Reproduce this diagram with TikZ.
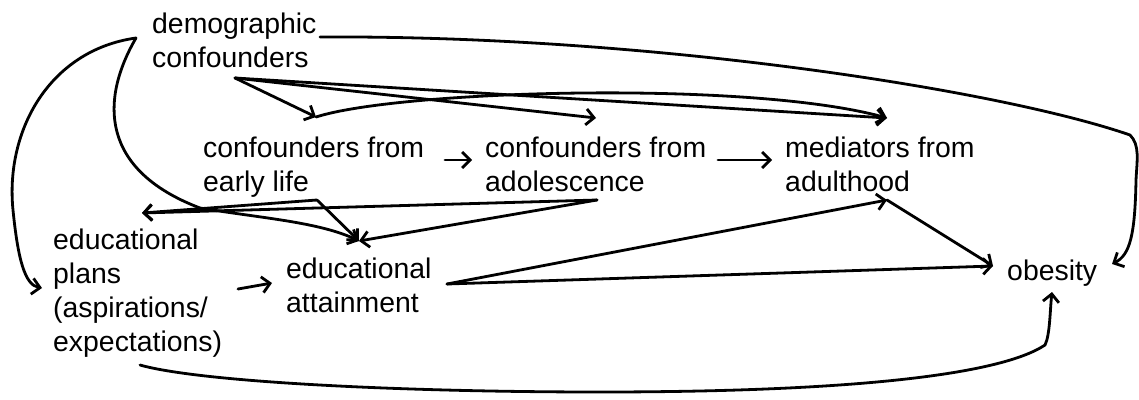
\documentclass[tikz,border=0pt]{standalone}
\usepackage{fontspec}
\setmainfont{Liberation Sans}
\usetikzlibrary{arrows.meta}
\begin{document}
\begin{tikzpicture}[x=1pt,y=-1pt,
  lbl/.style={anchor=north west,inner sep=0pt,align=left,font=\fontsize{28.4}{34}\selectfont},
  conn/.style={line width=2.8pt,line cap=round,line join=round,-{Straight Barb[length=8pt,width=16pt]}}]
\useasboundingbox[fill=white] (0,0) rectangle (1139,399);
% nodes
\node[lbl] (dem) at (152,13) {demographic\\confounders};
\node[lbl] (el)  at (203,137) {confounders from\\early life};
\node[lbl] (ado) at (485,137) {confounders from\\adolescence};
\node[lbl] (med) at (785,137) {mediators from\\adulthood};
\node[lbl] (plan) at (53,229) {educational\\plans\\(aspirations/\\expectations)};
\node[lbl] (att) at (286,258) {educational\\attainment};
\node[lbl] (obe) at (1007,260) {obesity};
% ports
\coordinate (demR) at (320,37);
\coordinate (demL) at (136,38);
\coordinate (demB) at (235,78);
\coordinate (elT) at (316,117);
\coordinate (elR) at (445,160);
\coordinate (elB) at (317,200);
\coordinate (adoT) at (596,118);
\coordinate (adoL) at (472,160);
\coordinate (adoR) at (718,160);
\coordinate (adoB) at (597,200);
\coordinate (medT) at (887,118);
\coordinate (medL) at (772,160);
\coordinate (medB) at (887,200);
\coordinate (planT) at (142,213);
\coordinate (planL) at (42,288);
\coordinate (planR) at (238,289);
\coordinate (planB) at (140,365);
\coordinate (attT) at (359,241);
\coordinate (attL) at (272,283);
\coordinate (attR) at (447,284);
\coordinate (obeL) at (993,266);
\coordinate (obeB) at (1052,292);
\coordinate (obeR) at (1112,264);
% connectors
\draw[conn] (demR) .. controls (650,35) and (1000,90) .. (1130,135)
  .. controls (1140,145) and (1137,160) .. (1136,180)
  .. controls (1135,235) and (1130,255) .. (obeR);
\draw[conn] (demB) -- (elT);
\draw[conn] (demB) -- (adoT);
\draw[conn] (demB) -- (medT);
\draw[conn] (elT) .. controls (400,90) and (750,80) .. (medT);
\draw[conn] (elR) -- (adoL);
\draw[conn] (adoR) -- (medL);
\draw[conn] (demL) .. controls (50,50) and (5,130) .. (13,210)
  .. controls (18,260) and (25,285) .. (planL);
\draw[conn] (demL) .. controls (100,100) and (100,170) .. (200,208)
  .. controls (260,218) and (320,222) .. (attT);
\draw[conn] (elB) -- (planT);
\draw[conn] (elB) -- (attT);
\draw[conn] (adoB) -- (planT);
\draw[conn] (adoB) -- (attT);
\draw[conn] (planR) -- (attL);
\draw[conn] (attR) -- (medB);
\draw[conn] (attR) -- (obeL);
\draw[conn] (medB) -- (obeL);
\draw[conn] (planB) .. controls (200,382) and (400,392) .. (600,392)
  .. controls (850,392) and (1000,375) .. (1045,345)
  .. controls (1050,335) and (1050,310) .. (obeB);
\end{tikzpicture}
\end{document}
